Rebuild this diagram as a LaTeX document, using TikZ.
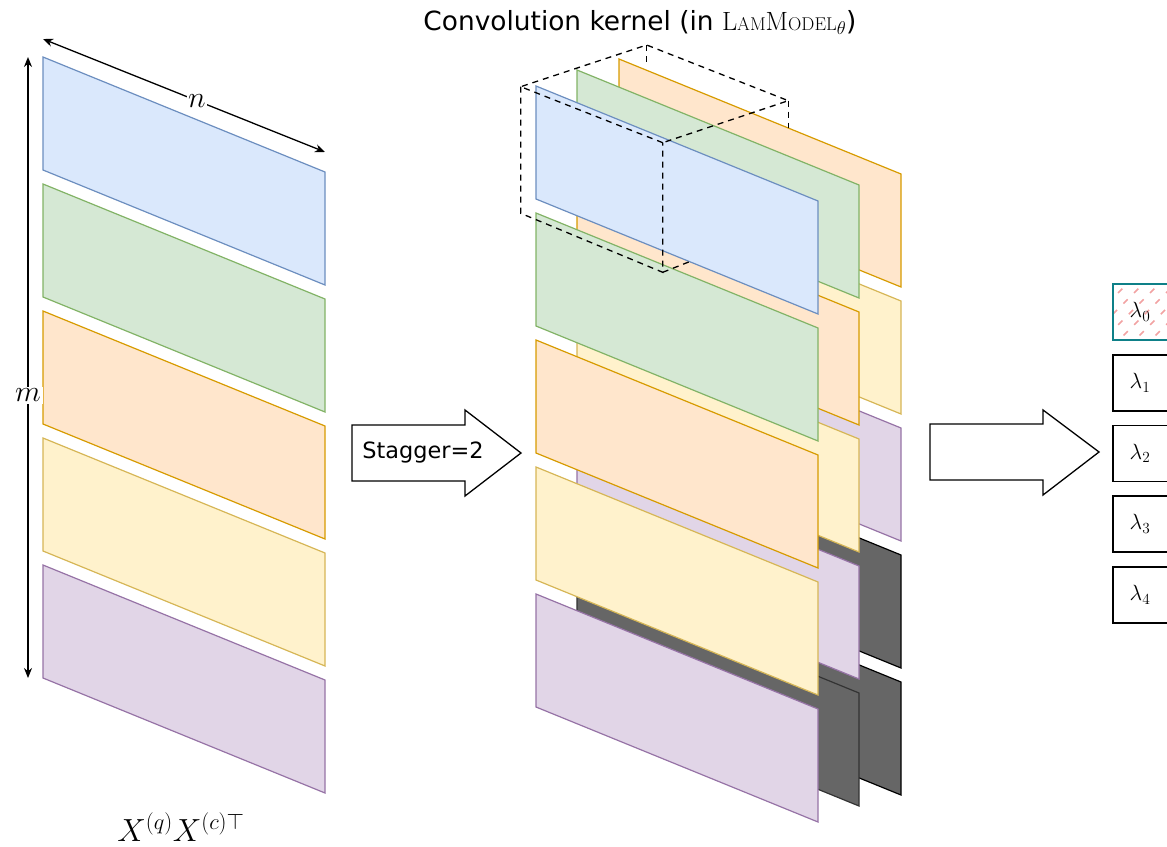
\RequirePackage{fix-cm}
\documentclass[tikz,border=0pt]{standalone}
\usepackage{fontspec}
\usepackage{amsmath}
\newfontfamily\dejavu{DejaVu Sans}
\usetikzlibrary{arrows.meta}

\definecolor{fillBlue}{HTML}{DAE8FC}\definecolor{lineBlue}{HTML}{6C8EBF}
\definecolor{fillGreen}{HTML}{D5E8D4}\definecolor{lineGreen}{HTML}{82B366}
\definecolor{fillOrange}{HTML}{FFE6CC}\definecolor{lineOrange}{HTML}{D79B00}
\definecolor{fillYellow}{HTML}{FFF2CC}\definecolor{lineYellow}{HTML}{D6B656}
\definecolor{fillPurple}{HTML}{E1D5E7}\definecolor{linePurple}{HTML}{9673A6}
\definecolor{fillDark}{HTML}{666666}
\definecolor{tealLine}{HTML}{0E8088}
\definecolor{hatchPink}{HTML}{F2A2A2}

% one slanted sheet: top-left corner (#2,#3), style #1
\newcommand\slab[3]{\draw[#1] (#2,#3) -- ++(282,115) -- ++(0,113) -- ++(-282,-115) -- cycle;}

\tikzset{
  sheet/.style={line width=1.2pt, line join=miter},
  sBlue/.style={sheet, fill=fillBlue, draw=lineBlue},
  sGreen/.style={sheet, fill=fillGreen, draw=lineGreen},
  sOrange/.style={sheet, fill=fillOrange, draw=lineOrange},
  sYellow/.style={sheet, fill=fillYellow, draw=lineYellow},
  sPurple/.style={sheet, fill=fillPurple, draw=linePurple},
  sDarkMid/.style={sheet, fill=fillDark, draw=black!80},
  sDarkBack/.style={sheet, fill=fillDark, draw=black},
  dimarrow/.style={line width=1.3pt, {Stealth[length=10pt,width=8pt]}-{Stealth[length=10pt,width=8pt]}},
  kernel/.style={line width=1.3pt, dash pattern=on 6pt off 5pt},
  blockarrow/.style={line width=1.3pt, draw=black, fill=white, line join=miter},
  lbox/.style={line width=1.3pt, draw=black},
  lab/.style={font=\fontsize{22}{26}\selectfont, inner sep=0pt},
  hatch/.style={draw=hatchPink, line width=1.6pt, dash pattern=on 6pt off 9pt},
}

\begin{document}
\begin{tikzpicture}[x=1pt, y=-1pt]
\useasboundingbox (0,0) rectangle (1167,846);

% ---------- left matrix ----------
\slab{sBlue}{43}{57}
\slab{sGreen}{43}{184}
\slab{sOrange}{43}{311}
\slab{sYellow}{43}{438}
\slab{sPurple}{43}{565}

\coordinate (mtop) at (28,57);
\coordinate (mbot) at (28,678);
\coordinate (nleft) at (43,39);
\coordinate (nright) at (325,152);
\draw[dimarrow] (mtop) -- (mbot)
  node[pos=0.545, fill=white, inner sep=2pt, font=\fontsize{30}{34}\selectfont] (mlab) {$m$};
\draw[dimarrow] (nleft) -- (nright)
  node[pos=0.546, fill=white, inner sep=1pt, font=\fontsize{30}{34}\selectfont] (nlab) {$n$};

\node[font=\fontsize{32}{38}\selectfont] (prod) at (181,827) {$X^{(q)}X^{(c)\top}$};

% ---------- stagger arrow ----------
\coordinate (sa1) at (352,425);
\coordinate (sa2) at (465,425);
\coordinate (sa3) at (465,410);
\coordinate (sa4) at (521,453);
\coordinate (sa5) at (465,496);
\coordinate (sa6) at (465,481);
\coordinate (sa7) at (352,481);
\draw[blockarrow] (sa1) -- (sa2) -- (sa3) -- (sa4) -- (sa5) -- (sa6) -- (sa7) -- cycle;
\node[font=\dejavu\fontsize{22.4}{26}\selectfont] (stag) at (423,453) {Stagger=2};

% ---------- staggered stack: back column ----------
\slab{sOrange}{619}{59}
\slab{sYellow}{619}{186}
\slab{sPurple}{619}{313}
\slab{sDarkBack}{619}{440}
\slab{sDarkBack}{619}{567}

% middle column
\slab{sGreen}{577}{70}
\slab{sOrange}{577}{197}
\slab{sYellow}{577}{324}
\slab{sPurple}{577}{451}
\slab{sDarkMid}{577}{578}

% front column
\slab{sBlue}{536}{86}
\slab{sGreen}{536}{213}
\slab{sOrange}{536}{340}
\slab{sYellow}{536}{467}
\slab{sPurple}{536}{594}

% ---------- convolution kernel (dashed box) ----------
\coordinate (k1) at (520.7,86.7);
\coordinate (k2) at (646.7,45);
\coordinate (k3) at (788.3,100.7);
\coordinate (k4) at (662.7,142.7);
\coordinate (k5) at (520.7,213.3);
\coordinate (k6) at (662.7,272.3);
\coordinate (k7) at (788.3,127.5);
\coordinate (k8) at (690,261.5);
\coordinate (k9) at (646.7,66);
\draw[kernel] (k4) -- (k1) -- (k2) -- (k3) -- cycle;
\draw[kernel] (k1) -- (k5) -- (k6) -- (k4);
\draw[kernel] (k3) -- (k7);
\draw[kernel] (k6) -- (k8);
\draw[kernel] (k2) -- (k9);

\node[font=\dejavu\fontsize{26.4}{30}\selectfont] (title) at (640,22)
  {Convolution kernel (in $\mathrm{L{\scriptstyle AM}M{\scriptstyle ODEL}}_\theta$)};

% ---------- output arrow ----------
\coordinate (ra1) at (930,424);
\coordinate (ra2) at (1043,424);
\coordinate (ra3) at (1043,410);
\coordinate (ra4) at (1099,452);
\coordinate (ra5) at (1043,495);
\coordinate (ra6) at (1043,480);
\coordinate (ra7) at (930,480);
\draw[blockarrow] (ra1) -- (ra2) -- (ra3) -- (ra4) -- (ra5) -- (ra6) -- (ra7) -- cycle;

% ---------- lambda outputs ----------
\begin{scope}
  \clip (1113,284) rectangle ++(56,56);
  \foreach \k in {-5,...,4}
    \draw[hatch] (1113+\k*16,346) -- ++(70,-70);
\end{scope}
\draw[lbox, draw=tealLine] (1113,284) rectangle ++(56,56);
\node[lab] (l0) at (1140,312) {$\lambda_0$};

\draw[lbox] (1113,355) rectangle ++(56,56);
\node[lab] (l1) at (1140,383) {$\lambda_1$};
\draw[lbox] (1113,425.5) rectangle ++(56,56);
\node[lab] (l2) at (1140,453.5) {$\lambda_2$};
\draw[lbox] (1113,496) rectangle ++(56,56);
\node[lab] (l3) at (1140,524) {$\lambda_3$};
\draw[lbox] (1113,567) rectangle ++(56,56);
\node[lab] (l4) at (1140,595) {$\lambda_4$};
\end{tikzpicture}
\end{document}
